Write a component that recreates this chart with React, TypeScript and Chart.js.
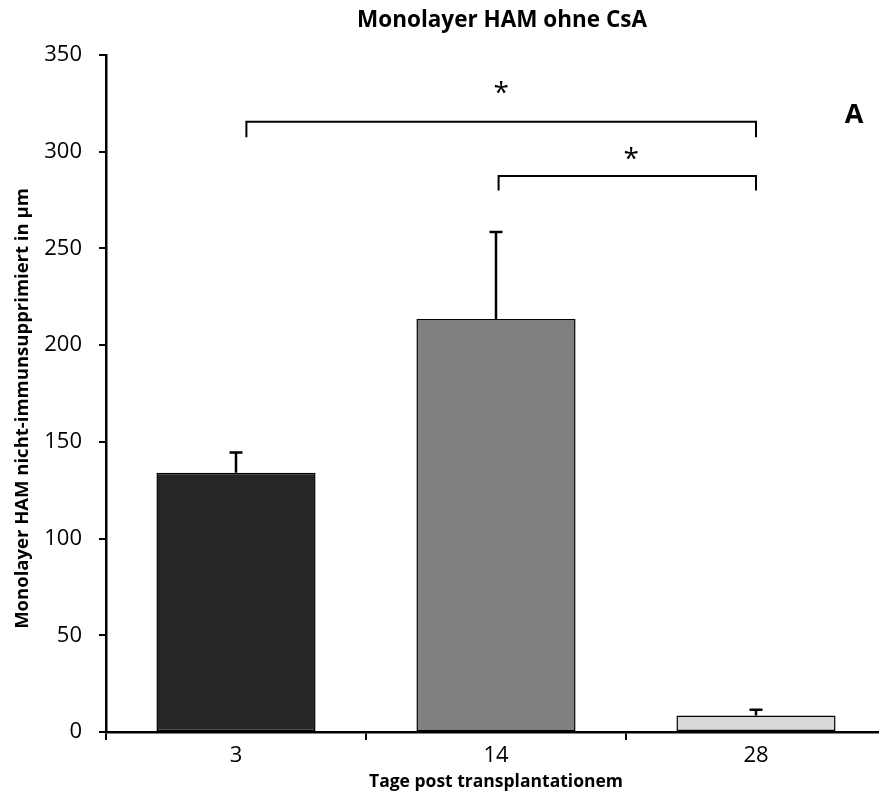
import React, { useEffect, useRef } from "react";
import { Chart, registerables } from "chart.js";

Chart.register(...registerables);

const categories = ["3", "14", "28"];
const means = [134, 213.5, 8.5];
const errors = [10.5, 45, 3];
const barColors = ["#262626", "#808080", "#d9d9d9"];

const yMin = 0;
const yMax = 350;
const yStep = 50;

// significance brackets (category index positions and value levels)
const bracketStart = [0.04, 1.01];
const bracketEnd = [2.0, 2.0];
const bracketLevel = [315.5, 287.5];
const bracketDrop = [8, 7.5];
const starX = [1.02, 1.52];
const starY = [333, 299];

const panelLabel = "A";
const panelX = 2.377;
const panelY = 320;

const titleText = "Monolayer HAM ohne CsA";
const xTitle = "Tage post transplantationem";
const yTitle = "Monolayer HAM nicht-immunsupprimiert in µm";

const FONT = "'Open Sans', 'Noto Sans', sans-serif";

function centeredText(ctx: CanvasRenderingContext2D, text: string, cx: number, cy: number) {
  ctx.textAlign = "center";
  ctx.textBaseline = "alphabetic";
  const m = ctx.measureText(text);
  const asc = m.actualBoundingBoxAscent;
  const desc = m.actualBoundingBoxDescent;
  ctx.fillText(text, cx, cy + (asc - desc) / 2);
}

const annotationPlugin = {
  id: "annotations",
  afterDraw(chart: any) {
    const ctx: CanvasRenderingContext2D = chart.ctx;
    const xs = chart.scales.x;
    const ys = chart.scales.y;
    const area = chart.chartArea;
    ctx.save();
    ctx.strokeStyle = "#000";
    ctx.fillStyle = "#000";
    // error bars
    ctx.lineWidth = 2.5;
    means.forEach((m, i) => {
      const x = xs.getPixelForValue(i);
      const yb = ys.getPixelForValue(m);
      const yt = ys.getPixelForValue(m + errors[i]);
      ctx.beginPath();
      ctx.moveTo(x, yb);
      ctx.lineTo(x, yt);
      ctx.moveTo(x - 6.5, yt);
      ctx.lineTo(x + 6.5, yt);
      ctx.stroke();
    });
    // brackets
    ctx.lineWidth = 2;
    bracketLevel.forEach((lvl, i) => {
      const x1 = xs.getPixelForValue(bracketStart[i]);
      const x2 = xs.getPixelForValue(bracketEnd[i]);
      const y = ys.getPixelForValue(lvl);
      const yd = ys.getPixelForValue(lvl - bracketDrop[i]);
      ctx.beginPath();
      ctx.moveTo(x1, yd);
      ctx.lineTo(x1, y);
      ctx.lineTo(x2, y);
      ctx.lineTo(x2, yd);
      ctx.stroke();
    });
    // asterisks
    ctx.font = `28px ${FONT}`;
    starX.forEach((sx, i) => {
      centeredText(ctx, "*", xs.getPixelForValue(sx), ys.getPixelForValue(starY[i]));
    });
    // panel label
    ctx.font = `bold 27px ${FONT}`;
    centeredText(ctx, panelLabel, xs.getPixelForValue(panelX), ys.getPixelForValue(panelY));

    // chart title
    ctx.font = `bold 22.5px ${FONT}`;
    centeredText(ctx, titleText, (area.left + area.right) / 2 + 6, area.top - 34);

    // y axis title
    ctx.save();
    ctx.font = `bold 18.5px ${FONT}`;
    ctx.translate(23, (area.top + area.bottom) / 2 + 15);
    ctx.rotate(-Math.PI / 2);
    ctx.textAlign = "center";
    ctx.textBaseline = "middle";
    ctx.fillText(yTitle, 0, 0);
    ctx.restore();

    ctx.restore();
  },
};

export default function App() {
  const ref = useRef<HTMLCanvasElement | null>(null);
  useEffect(() => {
    if (!ref.current) return;
    const chart = new Chart(ref.current, {
      type: "bar",
      data: {
        labels: categories,
        datasets: [
          {
            data: means,
            backgroundColor: barColors,
            borderColor: "#000",
            borderWidth: 1.5,
            borderSkipped: false,
            barPercentage: 0.612,
            categoryPercentage: 1,
          },
        ],
      },
      options: {
        responsive: false,
        animation: false,
        layout: { padding: { left: 0, right: 14, top: 55, bottom: 0 } },
        plugins: {
          legend: { display: false },
          tooltip: { enabled: false },
          title: { display: false },
        },
        scales: {
          x: {
            offset: true,
            grid: {
              display: true,
              offset: true,
              drawOnChartArea: false,
              drawTicks: true,
              tickLength: 8,
              color: "#000",
              lineWidth: 2,
            },
            border: { display: true, color: "#000", width: 2.5 },
            ticks: {
              color: "#000",
              font: { family: FONT, size: 22 },
              padding: 3,
              maxRotation: 0,
            },
            title: {
              display: true,
              text: xTitle,
              color: "#000",
              font: { family: FONT, size: 17.5, weight: "bold" },
              padding: { top: 0, bottom: 5 },
            },
            afterFit: (s: any) => {
              s.height = 66;
            },
          },
          y: {
            min: yMin,
            max: yMax,
            grid: {
              display: true,
              drawOnChartArea: false,
              drawTicks: true,
              tickLength: 7,
              color: "#000",
              lineWidth: 2,
            },
            border: { display: true, color: "#000", width: 2.5 },
            ticks: {
              stepSize: yStep,
              color: "#000",
              font: { family: FONT, size: 22 },
              padding: 17,
            },
            afterFit: (s: any) => {
              s.width = 106;
            },
          },
        },
      },
      plugins: [annotationPlugin],
    });
    return () => chart.destroy();
  }, []);
  return (
    <div
      style={{
        position: "fixed",
        left: 0,
        top: 0,
        width: 879,
        height: 798,
        overflow: "hidden",
        background: "#fff",
      }}
    >
      <canvas ref={ref} width={900} height={798} style={{ display: "block" }} />
    </div>
  );
}
